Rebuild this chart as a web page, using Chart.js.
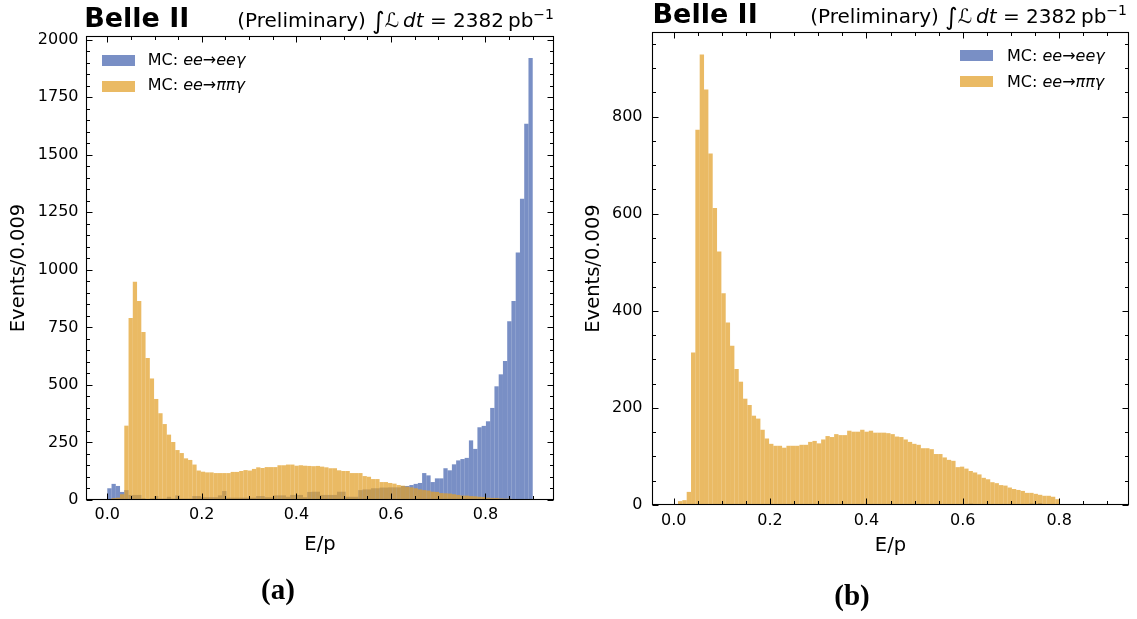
<!DOCTYPE html>
<html><head><meta charset="utf-8">
<script src="https://cdn.jsdelivr.net/npm/chart.js@4.4.0/dist/chart.umd.min.js"></script>
<style>
html,body{margin:0;padding:0;background:#fff;}
body{width:1137px;height:619px;position:relative;overflow:hidden;font-family:'DejaVu Sans',sans-serif;color:#000;}
canvas{position:absolute;top:0;}
.t{position:absolute;white-space:nowrap;line-height:1;}
.belle{font-weight:bold;font-size:27px;}
.lumi{font-size:20px;}
.lumi .int{font-size:24px;position:relative;top:2px;line-height:0;}
.lumi .sup{font-size:14px;position:relative;top:-8px;line-height:0;}
.leg{font-size:16px;}
.sw{position:absolute;width:33px;height:11px;}
.cap{font-family:'Liberation Serif',serif;font-weight:bold;font-size:29px;width:100px;text-align:center;}
</style></head><body>
<canvas id="c1" width="570" height="619" style="left:0"></canvas>
<canvas id="c2" width="567" height="619" style="left:570px"></canvas>

<div class="t belle" style="left:84.2px;top:4.2px">Belle II</div>
<div class="t lumi" style="right:583px;top:10.1px">(Preliminary) <span class="int">∫</span>ℒ&#8201;<i>dt</i> = 2382&#8201;pb<span class="sup">−1</span></div>
<div class="t belle" style="left:652.5px;top:0.2px">Belle II</div>
<div class="t lumi" style="right:10px;top:6.1px">(Preliminary) <span class="int">∫</span>ℒ&#8201;<i>dt</i> = 2382&#8201;pb<span class="sup">−1</span></div>

<div class="sw" id="swb1" style="left:101.7px;top:54.5px"></div>
<div class="sw" id="swo1" style="left:101.7px;top:80.5px"></div>
<div class="t leg" style="left:147.7px;top:51.5px">MC: <i>ee</i>→<i>eeγ</i></div>
<div class="t leg" style="left:147.7px;top:77.2px">MC: <i>ee</i>→<i>ππγ</i></div>

<div class="sw" id="swb2" style="left:960px;top:49.5px"></div>
<div class="sw" id="swo2" style="left:960px;top:76.3px"></div>
<div class="t leg" style="left:1007px;top:47.5px">MC: <i>ee</i>→<i>eeγ</i></div>
<div class="t leg" style="left:1007px;top:74.2px">MC: <i>ee</i>→<i>ππγ</i></div>

<div class="t cap" style="left:228px;top:575.2px">(a)</div>
<div class="t cap" style="left:802px;top:580.7px">(b)</div>

<script>
// ---- data ----
const binWidth = 0.009;
const nBins = 100;
const binCenters = Array.from({length: nBins}, (_, i) => +((i + 0.5) * binWidth).toFixed(4));

const eeLeft = [51,70,61,35,43,22,22,22,7,4,
 7,17,6,6,14,6,20,6,6,6,
 17,17,12,12,12,12,20,39,10,10,
 10,10,10,10,10,17,17,12,12,20,
 20,20,14,22,22,22,12,35,36,36,
 22,22,22,22,36,36,14,14,14,43,
 46,46,51,51,54,54,55,55,55,61,
 61,65,70,74,117,107,78,94,94,138,
 129,155,172,178,183,259,222,316,322,342,
 400,494,546,604,777,865,1075,1309,1635,1920];

const pipiLeft = [0,8,10,25,323,791,948,865,730,617,
 528,439,377,330,284,252,217,204,181,174,
 154,128,123,120,120,117,117,117,117,122,
 122,126,130,128,135,142,139,143,143,143,
 151,151,154,154,149,151,149,148,147,148,
 145,142,138,138,129,126,126,117,117,117,
 104,101,91,91,78,78,74,71,65,62,
 58,55,51,46,43,41,36,35,30,29,
 28,25,22,19,19,17,16,14,13,10,
 9,9,7,6,6,4,3,3,3,1];

const eeRight = [0,0,0,0,0,0,0,0,0,0,
 0,0,0,0,0,0,0,0,0,0,
 0,0,0,0,0,0,0,0,0,0,
 0,0,0,0,0,0,0,0,0,0,
 0,0,0,0,0,0,0,0,0,0,
 0,0,0,0,0,0,1,0,0,1,
 0,1,0,0,1,0,1,2,3,1,
 0,1,0,1,1,0,1,1,2,1,
 1,2,3,2,4,1,1,0,0,0,
 0,0,0,0,0,0,0,0,0,0];

const pipiRight = [0,8,10,27,314,773,928,856,724,612,
 522,436,376,328,280,254,219,206,184,178,
 155,137,126,122,122,118,122,122,122,124,
 124,130,132,127,135,142,140,146,144,144,
 153,151,151,155,151,153,149,149,149,148,
 146,141,140,135,130,126,124,117,117,115,
 105,105,98,93,91,78,79,75,70,67,
 63,56,53,47,45,41,40,36,33,31,
 29,25,25,23,21,19,19,17,12,0,
 0,0,0,0,0,0,0,0,0,0];

const xTicks = [0, 0.2, 0.4, 0.6, 0.8];
const yTicksLeft = [0, 250, 500, 750, 1000, 1250, 1500, 1750, 2000];
const yTicksRight = [0, 200, 400, 600, 800];
const seriesLabels = ['MC: ee→eeγ', 'MC: ee→ππγ'];

// ---- styles ----
const BLUE = 'rgba(58,90,170,0.68)';
const ORANGE = 'rgba(226,160,40,0.72)';
for (const id of ['swb1','swb2']) document.getElementById(id).style.background = BLUE;
for (const id of ['swo1','swo2']) document.getElementById(id).style.background = ORANGE;

Chart.defaults.font.family = "'DejaVu Sans', sans-serif";
Chart.defaults.color = '#000';

function framePlugin(cfg) {
  return {
    id: 'frame',
    afterDraw(chart) {
      const {ctx, chartArea: a, scales: {x, y}} = chart;
      const L = Math.round(a.left) + 0.5, R = Math.round(a.right) - 0.5;
      const T = Math.round(a.top) + 0.5, B = Math.round(a.bottom) - 0.5;
      ctx.save();
      ctx.strokeStyle = '#000';
      ctx.lineWidth = 1;
      ctx.beginPath();
      for (let k = 0; k <= 18; k++) {
        const v = +(k * 0.05).toFixed(2);
        if (v > x.max) break;
        const major = xTicks.some(t => Math.abs(t - v) < 1e-6);
        const len = major ? 6 : 3.5;
        const px = Math.round(x.getPixelForValue(v)) + 0.5;
        ctx.moveTo(px, B); ctx.lineTo(px, B - len);
        ctx.moveTo(px, T); ctx.lineTo(px, T + len);
      }
      for (let k = 0; k * cfg.yMinor <= y.max; k++) {
        const v = k * cfg.yMinor;
        const major = cfg.yTicks.includes(v);
        const len = major ? 6 : 3.5;
        const py = Math.round(y.getPixelForValue(v)) + 0.5;
        ctx.moveTo(L, py); ctx.lineTo(L + len, py);
        ctx.moveTo(R, py); ctx.lineTo(R - len, py);
      }
      ctx.stroke();
      ctx.lineWidth = 1.1;
      ctx.strokeRect(L, T, R - L, B - T);
      ctx.restore();
    }
  };
}

function makeChart(id, ee, pipi, cfg) {
  return new Chart(document.getElementById(id), {
    type: 'bar',
    data: {
      datasets: [
        {label: seriesLabels[0], data: binCenters.map((x, i) => ({x, y: ee[i]})), backgroundColor: BLUE, order: 1},
        {label: seriesLabels[1], data: binCenters.map((x, i) => ({x, y: pipi[i]})), backgroundColor: ORANGE, order: 0}
      ]
    },
    options: {
      responsive: false, animation: false, devicePixelRatio: 1,
      layout: {padding: cfg.padding},
      plugins: {legend: {display: false}, tooltip: {enabled: false}, title: {display: false}},
      datasets: {bar: {barPercentage: 1, categoryPercentage: 1, grouped: false, borderWidth: 0, inflateAmount: 0}},
      scales: {
        x: {
          type: 'linear', min: -0.045, max: 0.945, offset: false,
          grid: {display: false, drawTicks: false}, border: {display: false},
          afterBuildTicks: s => { s.ticks = xTicks.map(v => ({value: v})); },
          afterFit: s => { s.height = cfg.xH; },
          ticks: {padding: cfg.xPad, font: {size: 16}, color: '#000', callback: v => Number(v).toFixed(1), maxRotation: 0, autoSkip: false},
          title: {display: true, text: 'E/p', font: {size: 19.5}, color: '#000', padding: {top: 0, bottom: cfg.xTitlePad}}
        },
        y: {
          type: 'linear', min: 0, max: cfg.yMax,
          grid: {display: false, drawTicks: false}, border: {display: false},
          afterBuildTicks: s => { s.ticks = cfg.yTicks.map(v => ({value: v})); },
          afterFit: s => { s.width = cfg.yW; },
          ticks: {padding: cfg.yPad, font: {size: 16}, color: '#000', callback: v => String(v), autoSkip: false},
          title: {display: true, text: 'Events/0.009', font: {size: 19.5}, color: '#000', padding: {top: cfg.yTitlePad, bottom: 0}}
        }
      }
    },
    plugins: [framePlugin(cfg)]
  });
}

makeChart('c1', eeLeft, pipiLeft, {
  padding: {left: 0, top: 36, right: 16, bottom: 0},
  xH: 119, yW: 86, xPad: 5.5, yPad: 7.5, xTitlePad: 62.8, yTitlePad: 7,
  yMax: 2016, yTicks: yTicksLeft, yMinor: 50
});
makeChart('c2', eeRight, pipiRight, {
  padding: {left: 0, top: 32, right: 8, bottom: 0},
  xH: 114, yW: 82, xPad: 6.5, yPad: 9.5, xTitlePad: 61.8, yTitlePad: 11.8,
  yMax: 974.4, yTicks: yTicksRight, yMinor: 50
});
</script>
</body></html>
